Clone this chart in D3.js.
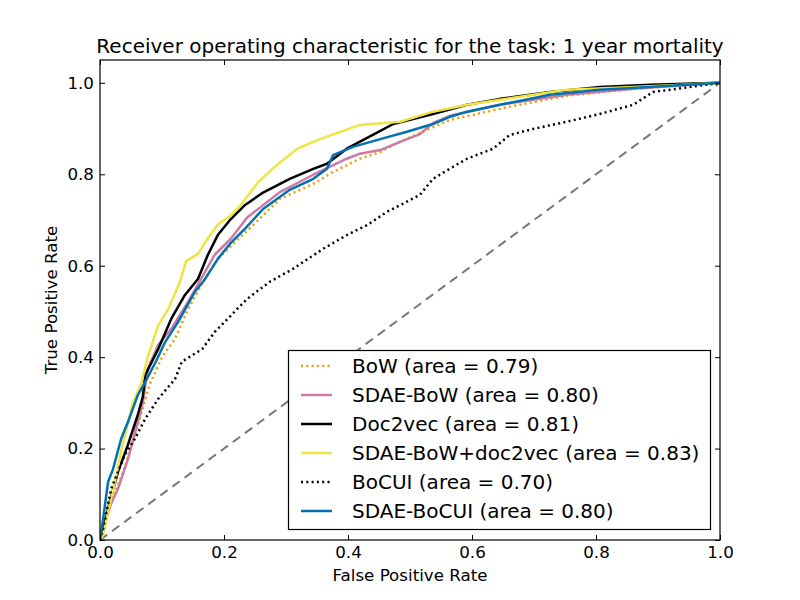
<!DOCTYPE html>
<html>
<head>
<meta charset="utf-8">
<script src="https://cdn.jsdelivr.net/npm/d3@7"></script>
<style>
body { margin: 0; background: #fff; }
svg { font-family: "DejaVu Sans", sans-serif; }
</style>
</head>
<body>
<svg id="chart" width="800" height="600"></svg>
<script>
// ---- data ----
const xTicks = [0, 0.2, 0.4, 0.6, 0.8, 1.0];
const yTicks = [0, 0.2, 0.4, 0.6, 0.8, 1.0];

const bow = [[0,0],[0.008,0.04],[0.02,0.09],[0.035,0.14],[0.05,0.2],[0.065,0.27],[0.08,0.34],[0.1,0.4],[0.121,0.44],[0.142,0.505],[0.169,0.571],[0.19,0.615],[0.218,0.652],[0.244,0.685],[0.29,0.746],[0.344,0.779],[0.376,0.805],[0.419,0.834],[0.452,0.849],[0.484,0.871],[0.527,0.897],[0.565,0.919],[0.661,0.948],[0.753,0.972],[0.887,0.99],[1,1]];
const sdaeBow = [[0,0],[0.008,0.04],[0.018,0.08],[0.029,0.112],[0.045,0.177],[0.061,0.258],[0.069,0.3],[0.077,0.374],[0.094,0.427],[0.115,0.462],[0.142,0.521],[0.163,0.571],[0.185,0.624],[0.211,0.659],[0.237,0.705],[0.29,0.761],[0.344,0.799],[0.398,0.834],[0.419,0.845],[0.452,0.853],[0.484,0.871],[0.516,0.888],[0.537,0.912],[0.565,0.928],[0.645,0.952],[0.753,0.974],[0.86,0.987],[1,1]];
const doc2vec = [[0,0],[0.005,0.02],[0.015,0.08],[0.029,0.149],[0.045,0.208],[0.061,0.274],[0.069,0.313],[0.073,0.361],[0.094,0.418],[0.115,0.484],[0.137,0.536],[0.158,0.571],[0.174,0.624],[0.19,0.667],[0.211,0.702],[0.234,0.733],[0.263,0.76],[0.306,0.79],[0.344,0.812],[0.366,0.823],[0.398,0.856],[0.44,0.886],[0.473,0.91],[0.537,0.932],[0.592,0.952],[0.645,0.965],[0.726,0.98],[0.806,0.991],[0.887,0.996],[1,1]];
const sdaeBowD2v = [[0,0],[0.005,0.011],[0.013,0.061],[0.024,0.127],[0.035,0.2],[0.053,0.30],[0.066,0.34],[0.077,0.40],[0.094,0.47],[0.11,0.505],[0.129,0.565],[0.139,0.61],[0.158,0.626],[0.174,0.66],[0.19,0.69],[0.211,0.71],[0.227,0.733],[0.255,0.783],[0.285,0.82],[0.318,0.856],[0.355,0.877],[0.419,0.908],[0.484,0.915],[0.537,0.937],[0.592,0.952],[0.645,0.963],[0.71,0.976],[0.753,0.985],[0.86,0.991],[0.94,0.996],[1,1]];
const bocui = [[0,0],[0.005,0.024],[0.018,0.112],[0.04,0.186],[0.056,0.221],[0.073,0.265],[0.094,0.309],[0.121,0.352],[0.132,0.39],[0.165,0.418],[0.185,0.455],[0.206,0.484],[0.237,0.527],[0.274,0.565],[0.311,0.593],[0.36,0.637],[0.398,0.667],[0.431,0.689],[0.463,0.718],[0.495,0.74],[0.516,0.755],[0.537,0.79],[0.569,0.816],[0.592,0.834],[0.634,0.856],[0.661,0.886],[0.698,0.899],[0.753,0.915],[0.806,0.932],[0.86,0.952],[0.892,0.98],[0.931,0.987],[1,1]];
const sdaeBocui = [[0,0],[0.005,0.046],[0.013,0.127],[0.021,0.155],[0.034,0.221],[0.045,0.258],[0.061,0.317],[0.073,0.346],[0.09,0.39],[0.105,0.433],[0.126,0.477],[0.153,0.543],[0.169,0.57],[0.19,0.615],[0.211,0.65],[0.234,0.681],[0.263,0.724],[0.306,0.766],[0.344,0.79],[0.366,0.812],[0.376,0.842],[0.408,0.86],[0.452,0.877],[0.495,0.893],[0.537,0.91],[0.565,0.926],[0.592,0.937],[0.645,0.952],[0.726,0.974],[0.806,0.985],[0.887,0.991],[1,1]];
const diagonal = [[0,0],[1,1]];

const seriesNames = ["BoW (area = 0.79)", "SDAE-BoW (area = 0.80)", "Doc2vec (area = 0.81)",
  "SDAE-BoW+doc2vec (area = 0.83)", "BoCUI (area = 0.70)", "SDAE-BoCUI (area = 0.80)"];
const seriesData = [bow, sdaeBow, doc2vec, sdaeBowD2v, bocui, sdaeBocui];
const seriesColors = ["#E69F00", "#CC79A7", "#000000", "#F0E442", "#000000", "#0072B2"];
const seriesDash = ["2,3.3", null, null, null, "2,3.3", null];

// ---- layout ----
const svg = d3.select("#chart");
const margin = {left: 100, right: 80, top: 60, bottom: 60};
const W = 800, H = 600;
const x = d3.scaleLinear().domain([0, 1]).range([margin.left, W - margin.right]);
const y = d3.scaleLinear().domain([0, 1.05]).range([H - margin.bottom, margin.top]);

svg.append("rect").attr("width", W).attr("height", H).attr("fill", "#fff");

svg.append("clipPath").attr("id", "clip").append("rect")
  .attr("x", x(0)).attr("y", y(1.05)).attr("width", x(1) - x(0)).attr("height", y(0) - y(1.05));

const line = d3.line().x(d => x(d[0])).y(d => y(d[1]));
const plot = svg.append("g").attr("clip-path", "url(#clip)");

plot.append("path").datum(diagonal).attr("d", line)
  .attr("fill", "none").attr("stroke", "#777").attr("stroke-width", 2).attr("stroke-dasharray", "9,6");

seriesData.forEach((data, i) => {
  plot.append("path").datum(data).attr("d", line)
    .attr("fill", "none")
    .attr("stroke", seriesColors[i])
    .attr("stroke-width", 2.5)
    .attr("stroke-linejoin", "round")
    .attr("stroke-dasharray", seriesDash[i]);
});

// ---- axes (ticks inward, all four sides) ----
const tickFont = 16.7;
const fmt = d3.format(".1f");
const axB = svg.append("g").attr("transform", `translate(0,${y(0)})`)
  .call(d3.axisBottom(x).tickValues(xTicks).tickFormat(fmt).tickSizeInner(-5).tickSizeOuter(0));
const axT = svg.append("g").attr("transform", `translate(0,${y(1.05)})`)
  .call(d3.axisTop(x).tickValues(xTicks).tickFormat("").tickSizeInner(-5).tickSizeOuter(0));
const axL = svg.append("g").attr("transform", `translate(${x(0)},0)`)
  .call(d3.axisLeft(y).tickValues(yTicks).tickFormat(fmt).tickSizeInner(-5).tickSizeOuter(0));
const axR = svg.append("g").attr("transform", `translate(${x(1)},0)`)
  .call(d3.axisRight(y).tickValues(yTicks).tickFormat("").tickSizeInner(-5).tickSizeOuter(0));
[axB, axT, axL, axR].forEach(a => {
  a.select(".domain").remove();
  a.selectAll("line").attr("stroke", "#000").attr("stroke-width", 1);
  a.selectAll("text").attr("font-size", tickFont).attr("font-family", "DejaVu Sans").attr("fill", "#000");
});
axB.selectAll("text").attr("y", 5).attr("dy", "0.76em");
axL.selectAll("text").attr("x", -6);

svg.append("rect").attr("x", x(0)).attr("y", y(1.05)).attr("width", x(1) - x(0)).attr("height", y(0) - y(1.05))
  .attr("fill", "none").attr("stroke", "#000").attr("stroke-width", 1.2);

// ---- titles ----
svg.append("text").attr("x", (x(0) + x(1)) / 2).attr("y", 53).attr("text-anchor", "middle")
  .attr("font-size", 20).text("Receiver operating characteristic for the task: 1 year mortality");
svg.append("text").attr("x", (x(0) + x(1)) / 2).attr("y", 581).attr("text-anchor", "middle")
  .attr("font-size", 16.7).text("False Positive Rate");
svg.append("text").attr("transform", `translate(57,${(y(0) + y(1.05)) / 2}) rotate(-90)`)
  .attr("text-anchor", "middle").attr("font-size", 16.7).text("True Positive Rate");

// ---- legend ----
const lg = svg.append("g");
lg.append("rect").attr("x", 288.5).attr("y", 350.5).attr("width", 422).attr("height", 179)
  .attr("fill", "#fff").attr("stroke", "#000").attr("stroke-width", 1.2);
seriesNames.forEach((name, i) => {
  const cy = 366 + i * 29;
  lg.append("line").attr("x1", 301).attr("x2", 332).attr("y1", cy).attr("y2", cy)
    .attr("stroke", seriesColors[i]).attr("stroke-width", 2.5).attr("stroke-dasharray", seriesDash[i]);
  lg.append("text").attr("x", 352).attr("y", cy).attr("dy", "0.35em")
    .attr("font-size", 20).text(name);
});
</script>
</body>
</html>
